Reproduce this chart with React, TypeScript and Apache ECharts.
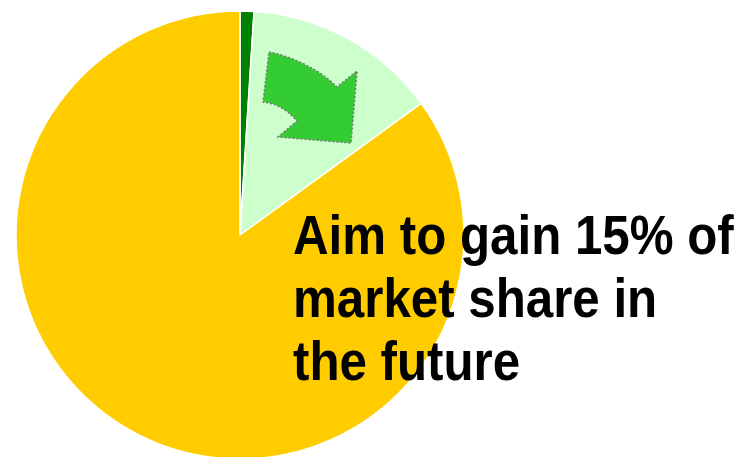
import React, { useEffect, useRef } from "react";
import * as echarts from "echarts";

const categories = ["Current share", "Target gain", "Others"];
const shareValues = [1, 14, 85];
const sliceColors = ["#008000", "#CCFFCC", "#FFCC00"];
const message = "Aim to gain 15% of\nmarket share in\nthe future";

const arrowPath =
  "M269,52 C290,56 318,68 337,87 L357,71 L351,143 L278,137 L297,121 C286,108 274,103 263,102 Z";

let registered = false;

export default function App() {
  const ref = useRef<HTMLDivElement>(null);
  useEffect(() => {
    document.body.style.margin = "0";
    if (!registered) {
      echarts.graphic.registerShape("arrowShape", echarts.graphic.extendPath(arrowPath, {}));
      registered = true;
    }
    const chart = echarts.init(ref.current!, null, { renderer: "svg" });
    chart.setOption({
      animation: false,
      series: [
        {
          type: "pie",
          center: [240, 235],
          radius: 224,
          startAngle: 90,
          clockwise: true,
          label: { show: false },
          labelLine: { show: false },
          emphasis: { disabled: true },
          itemStyle: { borderColor: "#ffffff", borderWidth: 1.5 },
          data: categories.map((name, i) => ({
            name,
            value: shareValues[i],
            itemStyle: { color: sliceColors[i] },
          })),
        },
      ],
      graphic: [
        {
          type: "arrowShape",
          x: 0,
          y: 0,
          z: 10,
          style: {
            fill: "#33CC33",
            stroke: "#777777",
            lineWidth: 1.5,
            lineDash: [2, 2],
          },
        },
        {
          type: "text",
          x: 293,
          y: 203,
          z: 20,
          scaleX: 0.88,
          style: {
            text: message,
            fill: "#000000",
            font: 'bold 56px "Liberation Sans"',
            lineHeight: 63,
            verticalAlign: "top",
          },
        },
      ],
    });
    return () => chart.dispose();
  }, []);
  return <div ref={ref} style={{ width: 740, height: 457 }} />;
}
